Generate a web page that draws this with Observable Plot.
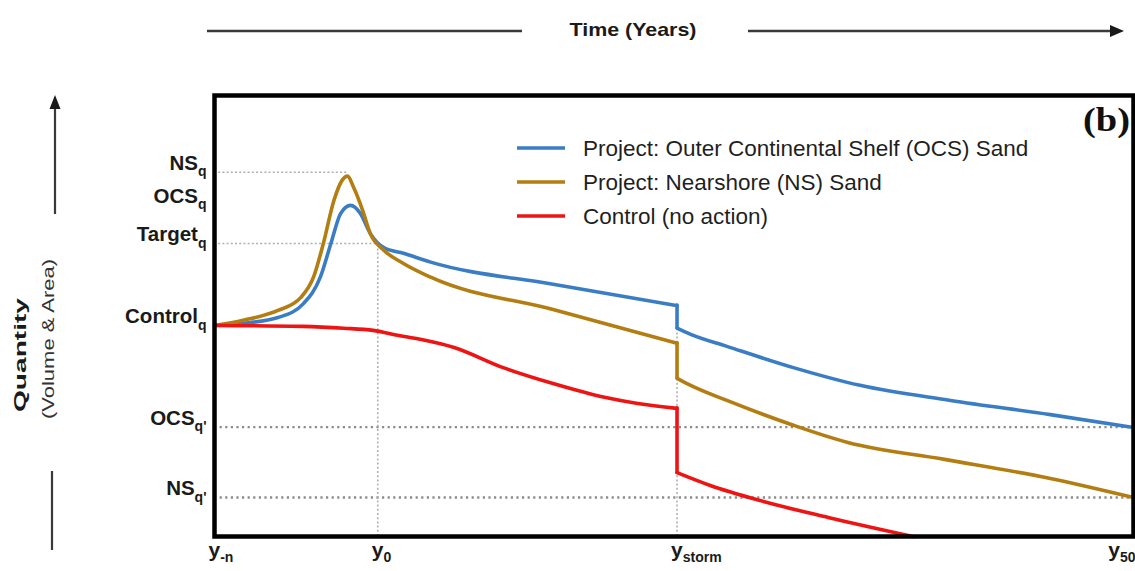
<!DOCTYPE html>
<html>
<head>
<meta charset="utf-8">
<script src="https://cdn.jsdelivr.net/npm/d3@7"></script>
<script src="https://cdn.jsdelivr.net/npm/@observablehq/plot@0.6"></script>
<style>
  html, body { margin: 0; padding: 0; background: #fff; overflow: hidden; }
  #chart svg { display: block; }
</style>
</head>
<body>
<div id="chart"></div>
<script>
// ---------- data ----------
const seriesNames = [
  "Project: Outer Continental Shelf (OCS) Sand",
  "Project: Nearshore (NS) Sand",
  "Control (no action)"
];
const seriesColors = ["#3b7dc4", "#b47d12", "#ee1414"];

const stormX = 19.8;

// OCS sand project (blue)
const ocsPreX  = [-10.8, -8.9, -6.6, -4.9, -3.8, -3.1, -2.45, -1.8, -1.15, -0.5, 0.4, 1.7, 3.5, 11.6, 19.8];
const ocsPreY  = [47.6, 48.1, 49.4, 52.6, 58.5, 66.1, 72.9, 74.7, 72.9, 68.4, 65.2, 63.9, 61.9, 56.9, 52.1];
const ocsPostX = [19.8, 20.7, 23.1, 27.5, 31.9, 37.9, 44.5, 50];
const ocsPostY = [47.0, 45.6, 42.9, 38.1, 34.1, 30.7, 27.5, 24.6];

// Nearshore sand project (brown)
const nsPreX  = [-10.8, -8.9, -6.6, -5.1, -4.25, -3.6, -2.9, -2.35, -2.0, -1.6, -1.0, -0.5, 0.4, 1.7, 3.5, 11.6, 19.8];
const nsPreY  = [47.6, 48.8, 51.0, 53.9, 58.5, 66.1, 75.8, 80.4, 81.3, 78.8, 73.6, 68.4, 64.6, 61.6, 58.5, 51.2, 43.6];
const nsPostX = [19.8, 20.7, 23.1, 27.5, 31.1, 37.5, 44.5, 50];
const nsPostY = [35.7, 34.1, 30.7, 25.1, 21.2, 17.4, 13.1, 8.8];

// Control, no action (red)
const ctrlPreX  = [-10.8, -5, -2.25, -0.3, 1.3, 2.8, 5.0, 8.3, 11.6, 15.0, 17.2, 19.8];
const ctrlPreY  = [47.6, 47.4, 47.0, 46.5, 45.4, 44.5, 42.7, 38.1, 34.5, 31.4, 30.0, 28.9];
const ctrlPostX = [19.8, 22.0, 25.3, 29.8, 35.4];
const ctrlPostY = [14.4, 11.5, 8.1, 4.3, 0];

// axis labels ("|" separates the subscript)
const xTickValues = [-10.8, 0, 19.8, 50];
const xTickLabels = ["y|-n", "y|0", "y|storm", "y|50"];
const yTickValues = [82.2, 74.7, 66.1, 47.6, 24.7, 8.8];
const yTickLabels = ["NS|q", "OCS|q", "Target|q", "Control|q", "OCS|q'", "NS|q'"];

// reference guides
const partialLevels = [82.2, 66.1];
const partialEnds   = [-2.0, 0];
const fullLevels    = [24.7, 8.8];
const vGuideX   = [0, 19.8];
const vGuideTop = [66.1, 47.0];

// ---------- tables ----------
function rows(name, xs, ys, seg) {
  return xs.map((x, i) => ({series: name, seg: name + seg, x, y: ys[i]}));
}
const lineData = [
  ...rows(seriesNames[0], ocsPreX, ocsPreY, "pre"),
  ...rows(seriesNames[0], ocsPostX, ocsPostY, "post"),
  ...rows(seriesNames[1], nsPreX, nsPreY, "pre"),
  ...rows(seriesNames[1], nsPostX, nsPostY, "post"),
  ...rows(seriesNames[2], ctrlPreX, ctrlPreY, "pre"),
  ...rows(seriesNames[2], ctrlPostX, ctrlPostY, "post")
];
const drops = [
  {series: seriesNames[0], x: stormX, y1: ocsPreY[ocsPreY.length - 1], y2: ocsPostY[0]},
  {series: seriesNames[1], x: stormX, y1: nsPreY[nsPreY.length - 1], y2: nsPostY[0]},
  {series: seriesNames[2], x: stormX, y1: ctrlPreY[ctrlPreY.length - 1], y2: ctrlPostY[0]}
];
const partialGuides = partialLevels.map((y, i) => ({y, x1: xTickValues[0], x2: partialEnds[i]}));
const vGuides = vGuideX.map((x, i) => ({x, y1: 0, y2: vGuideTop[i]}));
const yTicks = yTickValues.map((y, i) => ({y, label: yTickLabels[i]}));
const xTicks = xTickValues.map((x, i) => ({x, label: xTickLabels[i]}));

const FONT = "'Liberation Sans', Arial, Helvetica, sans-serif";

const chart = Plot.plot({
  width: 1135,
  height: 571,
  marginTop: 95,
  marginRight: 2,
  marginBottom: 35,
  marginLeft: 214,
  x: {domain: [xTickValues[0], 50], axis: null},
  y: {domain: [0, 99.5], axis: null},
  color: {domain: seriesNames, range: seriesColors},
  style: {fontFamily: FONT, background: "white", overflow: "visible"},
  marks: [
    Plot.ruleY(partialGuides, {y: "y", x1: "x1", x2: "x2", stroke: "#b0b0b0", strokeWidth: 1.6, strokeDasharray: "2,2.2"}),
    Plot.ruleY(fullLevels, {stroke: "#8c8c8c", strokeWidth: 2.3, strokeDasharray: "2.2,3.4"}),
    Plot.ruleX(vGuides, {x: "x", y1: "y1", y2: "y2", stroke: "#b0b0b0", strokeWidth: 1.6, strokeDasharray: "2,2.2"}),
    Plot.line(lineData, {x: "x", y: "y", z: "seg", stroke: "series", strokeWidth: 3.6, curve: "monotone-x", strokeLinecap: "round", strokeLinejoin: "round"}),
    Plot.ruleX(drops, {x: "x", y1: "y1", y2: "y2", stroke: "series", strokeWidth: 3.6, strokeLinecap: "round"}),
    Plot.frame({stroke: "#000", strokeWidth: 4.5}),
    Plot.text(yTicks, {y: "y", text: "label", frameAnchor: "left", textAnchor: "end", dx: -8, dy: -9,
      fontSize: 20.5, fontWeight: "bold", fill: "#1a1a1a"}),
    Plot.text(xTicks.slice(0, 3), {x: "x", text: "label", frameAnchor: "bottom", textAnchor: "start", dx: -6, dy: 20,
      fontSize: 21, fontWeight: "bold", fill: "#1a1a1a"}),
    Plot.text(xTicks.slice(3), {x: "x", text: "label", frameAnchor: "bottom", textAnchor: "end", dx: 2, dy: 20,
      fontSize: 21, fontWeight: "bold", fill: "#1a1a1a"})
  ]
});

// subscripts on tick labels
const svg = d3.select(chart);
svg.selectAll("text").filter(function () { return this.textContent.includes("|"); }).each(function () {
  const t = d3.select(this);
  const [main, sub] = this.textContent.split("|");
  const isX = main === "y";
  t.text(null);
  t.append("tspan").text(main);
  t.append("tspan").attr("font-size", 14).attr("dy", isX ? 5 : 6.5).text(sub);
});

// ---------- decorations ----------
const deco = svg.append("g").attr("text-anchor", "start");
const ink = "#3a3a3a";
// time arrow
deco.append("line").attr("x1", 207).attr("x2", 522).attr("y1", 31).attr("y2", 31).attr("stroke", ink).attr("stroke-width", 2.4);
deco.append("line").attr("x1", 748).attr("x2", 1112).attr("y1", 31).attr("y2", 31).attr("stroke", ink).attr("stroke-width", 2.4);
deco.append("path").attr("d", "M1124,31L1110,25L1110,37Z").attr("fill", "#1a1a1a");
deco.append("text").attr("x", 633).attr("y", 36).attr("text-anchor", "middle")
  .attr("font-family", FONT).attr("font-weight", "bold").attr("font-size", 19)
  .attr("textLength", 127).attr("lengthAdjust", "spacingAndGlyphs").attr("fill", "#1a1a1a")
  .text("Time (Years)");
// quantity arrow
deco.append("line").attr("x1", 55).attr("x2", 55).attr("y1", 214).attr("y2", 106).attr("stroke", ink).attr("stroke-width", 2.2);
deco.append("path").attr("d", "M55,95L49.5,109L60.5,109Z").attr("fill", "#1a1a1a");
deco.append("line").attr("x1", 52).attr("x2", 52).attr("y1", 471).attr("y2", 550).attr("stroke", ink).attr("stroke-width", 2.2);
deco.append("text").attr("transform", "translate(26,355) rotate(-90)").attr("text-anchor", "middle")
  .attr("font-family", FONT).attr("font-weight", "bold").attr("font-size", 17)
  .attr("textLength", 114).attr("lengthAdjust", "spacingAndGlyphs").attr("fill", "#1a1a1a")
  .text("Quantity");
deco.append("text").attr("transform", "translate(54,339) rotate(-90)").attr("text-anchor", "middle")
  .attr("font-family", FONT).attr("font-size", 17)
  .attr("textLength", 160).attr("lengthAdjust", "spacingAndGlyphs").attr("fill", "#333")
  .text("(Volume & Area)");
// panel letter
deco.append("text").attr("x", 1130).attr("y", 131).attr("text-anchor", "end")
  .attr("font-family", "'Liberation Serif', 'Times New Roman', serif").attr("font-weight", "bold").attr("font-size", 33)
  .attr("textLength", 47).attr("lengthAdjust", "spacingAndGlyphs").attr("fill", "#111")
  .text("(b)");
// legend
seriesNames.forEach((name, i) => {
  const y = 148 + i * 34;
  deco.append("line").attr("x1", 517).attr("x2", 565).attr("y1", y).attr("y2", y)
    .attr("stroke", seriesColors[i]).attr("stroke-width", 3.6);
  deco.append("text").attr("x", 583).attr("y", y).attr("dy", "0.35em").attr("text-anchor", "start")
    .attr("font-family", FONT).attr("font-size", 22.5).attr("fill", "#1f1f1f")
    .text(name);
});

document.getElementById("chart").appendChild(chart);
</script>
</body>
</html>
